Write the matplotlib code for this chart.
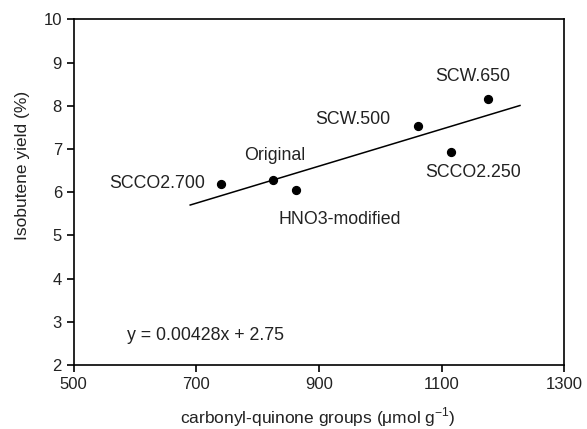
import matplotlib
matplotlib.use("Agg")
import matplotlib.pyplot as plt
import numpy as np

plt.rcParams["font.family"] = ["Liberation Sans", "DejaVu Sans"]
plt.rcParams["mathtext.fontset"] = "custom"
plt.rcParams["mathtext.rm"] = "Liberation Sans"

# carbonyl-quinone content vs. isobutene yield per sample
samples = ["SCCO2.700", "Original", "HNO3-modified", "SCW.500", "SCCO2.250", "SCW.650"]
carbonyl = [741, 825, 863, 1062, 1116, 1176]
yield_pct = [6.19, 6.28, 6.04, 7.54, 6.93, 8.16]

# linear fit y = a*x + b
slope = 0.00428
intercept = 2.75
fit_range = [690, 1228]

# label offsets (pixels) and alignment for each sample
offsets = {
    "SCCO2.700": ((-16, 0), "right"),
    "Original": ((2, 25), "center"),
    "HNO3-modified": ((44, -29), "center"),
    "SCW.500": ((-65, 6), "center"),
    "SCCO2.250": ((22, -21), "center"),
    "SCW.650": ((-15, 22), "center"),
}

fig = plt.figure(figsize=(5.87, 4.29), dpi=100)
ax = fig.add_axes([0.1256, 0.149, 0.8354, 0.806])

ax.scatter(carbonyl, yield_pct, s=32, color="black", zorder=3)

fx = np.array(fit_range, dtype=float)
ax.plot(fx, slope * fx + intercept, color="black", linewidth=1.1)

for name, x, y in zip(samples, carbonyl, yield_pct):
    (dx, dy), ha = offsets[name]
    ax.annotate(name, (x, y), xytext=(dx, dy), textcoords="offset pixels",
                ha=ha, va="center", fontsize=12.8, color="#222222")

ax.text(0.108, 0.085, f"y = {slope}x + {intercept}", transform=ax.transAxes,
        fontsize=12.8, color="#222222", ha="left", va="center")

ax.set_xlim(500, 1300)
ax.set_ylim(2, 10)
ax.set_xticks([500, 700, 900, 1100, 1300])
ax.set_yticks(range(2, 11))

for side in ["left", "bottom", "top", "right"]:
    ax.spines[side].set_linewidth(1.2)
ax.tick_params(direction="out", length=5, width=1.2, labelsize=12,
               labelcolor="#222222", top=False, right=False)

ax.set_xlabel(r"carbonyl-quinone groups (μmol g$^{-1}$)", fontsize=12.5, color="#222222")
ax.set_ylabel("Isobutene yield (%)", fontsize=12.5, color="#222222")
ax.xaxis.set_label_coords(0.497, -0.117)
ax.yaxis.set_label_coords(-0.09, 0.578)

fig.savefig("out.png", dpi=100)
